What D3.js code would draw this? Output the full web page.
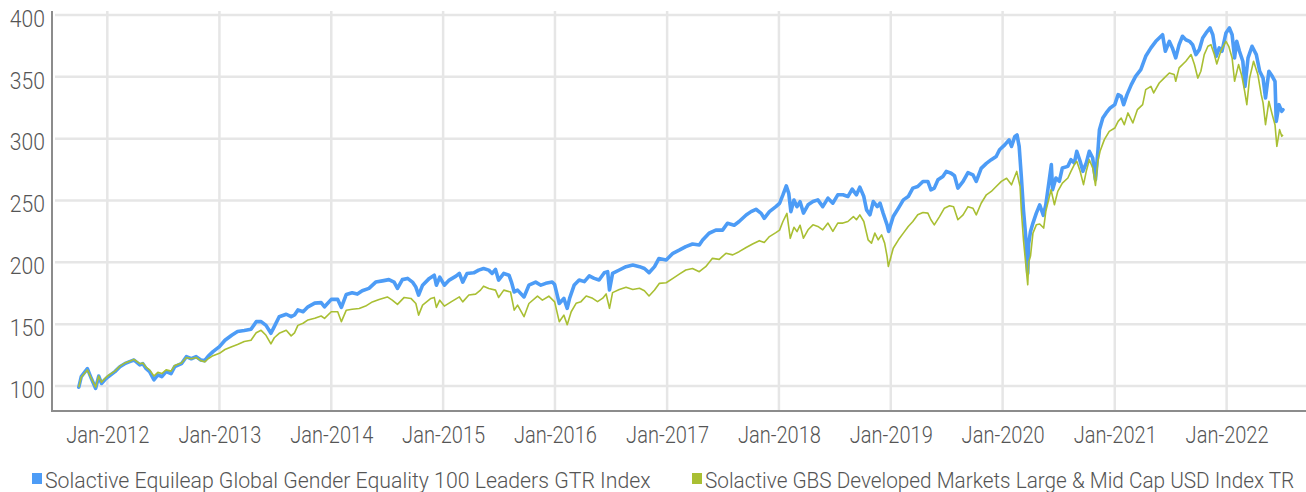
<!DOCTYPE html>
<html>
<head>
<meta charset="utf-8">
<script src="https://cdn.jsdelivr.net/npm/d3@7"></script>
<style>
  body { margin: 0; background: #fff; }
  svg { display: block; }
  text { font-family: Roboto, "Noto Sans", sans-serif; font-weight: 300; fill: #555555; }
</style>
</head>
<body>
<svg id="chart" width="1306" height="492"></svg>
<script>
// ---- data -------------------------------------------------------------
const yTicks = [100, 150, 200, 250, 300, 350, 400];
const xTickDates = ["2012-01-01","2013-01-01","2014-01-01","2015-01-01","2016-01-01","2017-01-01",
                    "2018-01-01","2019-01-01","2020-01-01","2021-01-01","2022-01-01"];
const xTickLabels = ["Jan-2012","Jan-2013","Jan-2014","Jan-2015","Jan-2016","Jan-2017",
                     "Jan-2018","Jan-2019","Jan-2020","Jan-2021","Jan-2022"];
const seriesNames = ["Solactive Equileap Global Gender Equality 100 Leaders GTR Index",
                     "Solactive GBS Developed Markets Large & Mid Cap USD Index TR"];

// Solactive Equileap Global Gender Equality 100 Leaders GTR Index
const genderDates = [
"2011-09-30","2011-10-08","2011-10-28","2011-11-10","2011-11-24","2011-12-04","2011-12-13","2011-12-24",
"2012-01-04","2012-01-26","2012-02-11","2012-02-27","2012-03-14","2012-03-28","2012-04-16","2012-04-26",
"2012-05-07","2012-05-18","2012-06-01","2012-06-14","2012-06-27","2012-07-11","2012-07-27","2012-08-08",
"2012-08-30","2012-09-15","2012-10-01","2012-10-17","2012-11-01","2012-11-14","2012-11-25","2012-12-11",
"2013-01-01","2013-01-19","2013-02-10","2013-03-01","2013-03-23","2013-04-14","2013-05-01","2013-05-17",
"2013-06-02","2013-06-18","2013-06-29","2013-07-15","2013-08-07","2013-08-23","2013-09-03","2013-09-14",
"2013-10-01","2013-10-17","2013-11-08","2013-11-29","2013-12-10",
"2014-01-01","2014-01-22","2014-02-03","2014-02-19","2014-03-10","2014-03-27","2014-04-12","2014-05-04",
"2014-05-26","2014-06-17","2014-07-08","2014-07-25","2014-08-05","2014-08-21","2014-09-07","2014-09-23",
"2014-10-04","2014-10-13","2014-10-26","2014-11-17","2014-12-03","2014-12-10","2014-12-21",
"2015-01-05","2015-01-21","2015-02-12","2015-02-23","2015-03-06","2015-03-20","2015-04-11","2015-04-27",
"2015-05-13","2015-05-30","2015-06-10","2015-06-21","2015-07-01","2015-07-18","2015-08-04","2015-08-12",
"2015-08-21","2015-09-01","2015-09-22","2015-10-08","2015-10-30","2015-11-16","2015-12-02","2015-12-23",
"2015-12-31","2016-01-15","2016-01-30","2016-02-10","2016-02-18","2016-03-04","2016-03-20","2016-04-06",
"2016-04-22","2016-05-08","2016-05-24","2016-06-10","2016-06-21","2016-06-27","2016-07-07","2016-07-29",
"2016-08-20","2016-09-11","2016-10-03","2016-10-19","2016-11-03","2016-11-21","2016-12-05","2016-12-29",
"2017-01-20","2017-02-11","2017-03-03","2017-03-25","2017-04-16","2017-04-27","2017-05-18","2017-06-09",
"2017-07-01","2017-07-17","2017-08-08","2017-08-24","2017-09-16","2017-10-02","2017-10-18","2017-11-04",
"2017-11-14","2017-12-01","2017-12-22","2018-01-03","2018-01-14","2018-01-25","2018-02-02","2018-02-09",
"2018-02-19","2018-03-01","2018-03-11","2018-03-22","2018-04-06","2018-04-22","2018-05-08","2018-05-24",
"2018-06-10","2018-06-26","2018-07-12","2018-07-29","2018-08-14","2018-08-28","2018-09-11","2018-09-22",
"2018-10-05","2018-10-14","2018-10-25","2018-11-05","2018-11-18","2018-11-27","2018-12-07","2018-12-20",
"2018-12-25","2019-01-09","2019-01-26","2019-02-11","2019-02-27","2019-03-14","2019-03-30","2019-04-16",
"2019-05-02","2019-05-12","2019-05-23","2019-06-04","2019-06-20","2019-07-01","2019-07-17","2019-07-28",
"2019-08-08","2019-08-25","2019-09-10","2019-09-26","2019-10-07","2019-10-23","2019-11-09","2019-11-25",
"2019-12-11","2019-12-22","2020-01-08","2020-01-22","2020-01-30","2020-02-10","2020-02-17","2020-02-24",
"2020-03-02","2020-03-09","2020-03-16","2020-03-23","2020-03-26","2020-04-01","2020-04-09","2020-04-20",
"2020-05-01","2020-05-13","2020-05-21","2020-06-08","2020-06-12","2020-06-23","2020-07-04","2020-07-14",
"2020-08-01","2020-08-11","2020-08-22","2020-08-30","2020-09-10","2020-09-19","2020-09-30","2020-10-10",
"2020-10-21","2020-10-30","2020-11-07","2020-11-12","2020-11-23","2020-12-04","2020-12-17","2021-01-01",
"2021-01-12","2021-01-22","2021-01-30","2021-02-10","2021-02-24","2021-03-10","2021-03-27","2021-04-12",
"2021-04-29","2021-05-15","2021-05-26","2021-06-06","2021-06-15","2021-06-28","2021-07-08","2021-07-19",
"2021-07-30","2021-08-10","2021-08-21","2021-09-02","2021-09-12","2021-09-23","2021-10-04","2021-10-15",
"2021-10-26","2021-11-08","2021-11-17","2021-11-28","2021-12-08","2021-12-17","2021-12-30","2022-01-10",
"2022-01-19","2022-01-27","2022-02-03","2022-02-12","2022-02-23","2022-03-02","2022-03-12","2022-03-25",
"2022-04-08","2022-04-19","2022-04-30","2022-05-08","2022-05-19","2022-05-30","2022-06-08","2022-06-12",
"2022-06-21","2022-06-30","2022-07-04"];
const genderValues = [
99,107.5,114,106,98,108,102,105,
107.5,111.6,115.6,118,119.7,121,117,118,
114,111.6,105,109,107.5,111.6,110,115.6,
118,123.7,122,123.7,121,120.5,124,127.8,
131.8,137,141,144,144.8,145.8,152,152,
149,142.6,148,156,158,156,157.4,161.5,
160,164,167,167.4,164,
170,170,163.5,174,175.4,174.3,177,178.9,
184,185,186,184,178.9,186,187,184,
180,173.5,181.5,187,189.6,181.5,188,
181.5,185.6,188.8,191,184,191,191.5,193.7,
195,193.7,191,194.2,185.6,191,189.6,184,
176,177.5,172,181.5,184,181.5,183,184,
182,166.7,170.8,162.8,171,181.7,185.7,184.4,
189,187,185.7,191.6,192.4,177.6,191,193.8,
196.5,197.8,196.5,195,191.6,196.5,203,201.9,
207.3,210,212.7,214.8,214,218,223.5,226,
226,231.6,230,233,238.3,241,242.9,239.6,
235.6,241,245,247.7,254.5,261.8,255.8,241,
250.4,245,249,239.8,246.5,249.2,250.5,245,
251.9,247.8,254.6,254.6,253.2,259.2,254.6,260.8,
253.2,242.4,238.4,249.2,245,247.8,239.8,230.3,
225,237,243.8,250.5,253.2,260,261.3,265.4,
265.4,258.6,260,266.7,269.4,273.5,272,270,
260,265.4,272.6,270.8,265.4,276,280,283,
285.6,291,295,299,293.7,301.8,303,293.7,
269.4,242.4,222,191,215,225,231.7,239.8,
246.5,238,246.6,279,258.7,268.2,265.5,276.3,
277.6,283,280.3,289.8,281.7,273.6,280.3,289.8,
284.4,266.8,289.8,307.3,316.7,320.8,324.8,327.5,
335.6,334.2,327.5,335.6,343.7,350.4,355.8,366.6,
373.4,378.7,381.4,384.1,370.7,378.7,373.4,365.3,
376,382.8,380,378.7,376,368,372,381.4,
385.5,389.5,384,366.6,373.4,370.7,385.5,389.5,
384,365.3,378.7,370.7,362.6,342.3,365.3,374.7,
368,354.5,349,332.9,354.5,350.4,346.4,314,
327.5,322.1,323.5];

// Solactive GBS Developed Markets Large & Mid Cap USD Index TR
const marketDates = [
"2011-09-30","2011-10-08","2011-10-28","2011-11-10","2011-11-24","2011-12-04","2011-12-13","2011-12-24",
"2012-01-04","2012-01-26","2012-02-11","2012-02-27","2012-03-14","2012-03-28","2012-04-16","2012-04-26",
"2012-05-07","2012-05-18","2012-06-01","2012-06-14","2012-06-27","2012-07-11","2012-07-27","2012-08-08",
"2012-08-30","2012-09-15","2012-10-01","2012-10-17","2012-11-01","2012-11-14","2012-11-25","2012-12-11",
"2013-01-01","2013-01-19","2013-02-10","2013-03-01","2013-03-23","2013-04-14","2013-05-01","2013-05-17",
"2013-06-02","2013-06-18","2013-06-29","2013-07-15","2013-08-07","2013-08-23","2013-09-03","2013-09-14",
"2013-10-01","2013-10-17","2013-11-08","2013-11-29","2013-12-10",
"2014-01-01","2014-01-22","2014-02-03","2014-02-19","2014-03-10","2014-04-02","2014-04-23","2014-05-15",
"2014-06-06","2014-07-03","2014-07-19","2014-08-05","2014-08-27","2014-09-18","2014-10-04","2014-10-13",
"2014-10-26","2014-11-22","2014-12-03","2014-12-10","2014-12-21",
"2015-01-05","2015-01-27","2015-02-23","2015-03-06","2015-03-26","2015-04-17","2015-05-03","2015-05-13",
"2015-05-30","2015-06-21","2015-07-01","2015-07-18","2015-08-09","2015-08-21","2015-09-01","2015-09-22",
"2015-10-08","2015-11-05","2015-11-21","2015-12-12","2015-12-31","2016-01-15","2016-01-30","2016-02-10",
"2016-02-23","2016-03-10","2016-03-26","2016-04-12","2016-05-03","2016-05-19","2016-06-05","2016-06-16",
"2016-06-27","2016-07-07","2016-07-29","2016-08-20","2016-09-11","2016-10-03","2016-10-19","2016-11-03",
"2016-11-21","2016-12-07","2016-12-29","2017-01-20","2017-02-11","2017-03-03","2017-03-25","2017-04-16",
"2017-05-07","2017-05-29","2017-06-20","2017-07-12","2017-08-03","2017-08-24","2017-09-16","2017-10-07",
"2017-10-29","2017-11-14","2017-12-01","2017-12-22","2018-01-03","2018-01-14","2018-01-27","2018-02-07",
"2018-02-19","2018-03-01","2018-03-11","2018-03-22","2018-04-06","2018-04-22","2018-05-08","2018-05-24",
"2018-06-10","2018-06-26","2018-07-12","2018-07-29","2018-08-14","2018-09-01","2018-09-11","2018-09-22",
"2018-10-05","2018-10-19","2018-10-30","2018-11-10","2018-11-21","2018-12-02","2018-12-12","2018-12-20",
"2018-12-24","2019-01-09","2019-01-26","2019-02-11","2019-02-27","2019-03-14","2019-03-30","2019-04-16",
"2019-05-02","2019-05-12","2019-05-23","2019-06-09","2019-06-25","2019-07-12","2019-07-25","2019-08-08",
"2019-08-25","2019-09-10","2019-09-26","2019-10-07","2019-10-23","2019-11-09","2019-11-25","2019-12-11",
"2019-12-28","2020-01-14","2020-01-30","2020-02-16","2020-02-27","2020-03-02","2020-03-09","2020-03-16",
"2020-03-23","2020-03-26","2020-04-01","2020-04-09","2020-04-20","2020-05-01","2020-05-14","2020-05-21",
"2020-06-07","2020-06-18","2020-06-29","2020-07-14","2020-08-01","2020-08-11","2020-08-22","2020-08-30",
"2020-09-10","2020-09-21","2020-09-30","2020-10-10","2020-10-21","2020-10-30","2020-11-07","2020-11-14",
"2020-11-28","2020-12-14","2021-01-01","2021-01-12","2021-01-22","2021-02-01","2021-02-13","2021-03-01",
"2021-03-16","2021-04-02","2021-04-12","2021-04-29","2021-05-08","2021-05-26","2021-06-11","2021-06-28",
"2021-07-14","2021-07-19","2021-07-30","2021-08-21","2021-09-07","2021-09-18","2021-09-29","2021-10-09",
"2021-10-20","2021-11-01","2021-11-11","2021-11-22","2021-11-30","2021-12-13","2021-12-30","2022-01-08",
"2022-01-19","2022-01-27","2022-02-09","2022-02-20","2022-03-01","2022-03-08","2022-03-17","2022-03-30",
"2022-04-13","2022-04-24","2022-04-30","2022-05-08","2022-05-19","2022-05-30","2022-06-08","2022-06-14",
"2022-06-23","2022-06-30","2022-07-04"];
const marketValues = [
99,107,113,106,99,108,103,106,
108.5,112,116,118.5,120,121.5,118,118.5,
115,113,108,111,110,113,112,116.5,
118.5,123,122,123,120.5,119.5,122,124.5,
126.4,129.5,131.8,133.5,135.9,137,143,145,
141,134,139,142.6,145,140.5,143,149,
150.7,153.4,154.7,156.6,154.7,
160,160,152,161.3,162,162.7,164.6,168,
170,172,169.4,166,171.6,170.8,166.7,157.3,
165.4,170.8,171.6,163.5,169.4,
164.6,168,172,168,173.5,174.3,177.5,180.7,
178.9,177.5,171.6,177.5,176,161.3,165.4,156,
166.7,172.6,169.4,172.6,168,152,157.3,149.5,
160,166.8,168.2,172.8,170.9,168.2,171,174.4,
162.8,175.5,178,179.8,178,179,177,172.8,
177.6,183,183.5,187,190.6,193.8,195,192.4,
196.5,203.2,202.4,207.3,206,208.6,212,214.8,
217.5,216,220.8,224,226,233,239.6,219.4,
228.3,224.8,230,219.5,226.3,230.3,229,226.3,
231.7,225,231.7,231.7,233,237,234.4,238.4,
233,218.2,215.5,223.6,218.2,222.2,215.5,204.7,
196.6,211.4,218.2,223.6,229,233,238.4,240.3,
239.8,234.4,230.3,237,243.8,245.7,245,234.4,
238.4,245,243.8,238.4,247.8,254.6,257.3,261.3,
265.4,268,262.7,273.5,261.3,242.4,218.2,200,
181.8,200,205,223.6,230.3,231,227.7,241.2,
258.7,246.6,257.4,264.1,268.2,273.6,279,281.7,
273.6,262.8,273.6,283,276.3,262.2,281.7,289.8,
299.2,305.9,308.6,314,316.7,311.3,320.8,312.7,
323.5,327.5,339.6,342.3,337,345,349,353.1,
351.8,346.4,357.2,362.6,368,360,349,354.5,
368,374.7,376,368,360.4,370.7,378.7,374.7,
365.3,346.4,359.9,350.4,338.3,327.5,349,362.6,
351.8,335.6,328.9,311.3,330.2,319.4,311.3,293.8,
307.3,301.9,303.2];

// ---- chart ------------------------------------------------------------
const plotLeft = 52, plotRight = 1306, plotTop = 15, plotBottom = 411;
const gridColor = "#e6e6e6", axisColor = "#8c8c8c";
const genderColor = "#4d9cf6", marketColor = "#a9bf33";

const parse = d3.utcParse("%Y-%m-%d");
const tickDates = xTickDates.map(parse);

// Yearly ticks sit on fixed positions; the domain is widened to the plot edges.
const xAnchor = d3.scaleUtc().domain([tickDates[0], tickDates[tickDates.length - 1]]).range([107.3, 1226.6]);
const x = d3.scaleUtc().domain([xAnchor.invert(plotLeft), xAnchor.invert(plotRight)]).range([plotLeft, plotRight]);
const y = d3.scaleLinear().domain([80, 400]).range([410.7, plotTop]);

const svg = d3.select("#chart");

// gridlines
svg.append("g").selectAll("line").data(yTicks).join("line")
  .attr("x1", 55).attr("x2", plotRight)
  .attr("y1", d => y(d)).attr("y2", d => y(d))
  .attr("stroke", gridColor).attr("stroke-width", 2.5);
svg.append("g").selectAll("line").data(tickDates).join("line")
  .attr("x1", d => x(d)).attr("x2", d => x(d))
  .attr("y1", 11).attr("y2", plotBottom)
  .attr("stroke", gridColor).attr("stroke-width", 2.5);

// series
const line = (dates, values) => d3.line()
  .x((d, i) => x(parse(dates[i])))
  .y(d => y(d))(values);

svg.append("path").attr("d", line(genderDates, genderValues))
  .attr("fill", "none").attr("stroke", genderColor).attr("stroke-width", 3.6)
  .attr("stroke-linejoin", "round").attr("stroke-linecap", "round");
svg.append("path").attr("d", line(marketDates, marketValues))
  .attr("fill", "none").attr("stroke", marketColor).attr("stroke-width", 1.6)
  .attr("stroke-linejoin", "round");

// axes
const yAxis = svg.append("g").attr("transform", `translate(${plotLeft},0)`)
  .call(d3.axisLeft(y).tickValues(yTicks).tickSize(0).tickPadding(7).tickFormat(d3.format("d")));
yAxis.select(".domain").remove();
yAxis.selectAll("text").attr("font-size", 24).attr("dy", "0.47em");

const xAxis = svg.append("g").attr("transform", `translate(0,${plotBottom})`)
  .call(d3.axisBottom(x).tickValues(tickDates).tickSize(0).tickFormat((d, i) => xTickLabels[i]));
xAxis.select(".domain").remove();
xAxis.selectAll("text").attr("font-size", 23).attr("y", 32).attr("dy", 0);
svg.selectAll("g").attr("font-family", null).attr("font-size", null);

svg.append("line").attr("x1", plotLeft).attr("x2", plotLeft).attr("y1", 11).attr("y2", plotBottom + 1)
  .attr("stroke", axisColor).attr("stroke-width", 2);
svg.append("line").attr("x1", plotLeft).attr("x2", plotRight).attr("y1", plotBottom).attr("y2", plotBottom)
  .attr("stroke", axisColor).attr("stroke-width", 2);

// legend: swatch plus horizontally narrowed label
const legendItems = [
  { name: seriesNames[0], color: genderColor, x: 32, width: 606 },
  { name: seriesNames[1], color: marketColor, x: 692, width: 590 }
];
legendItems.forEach(it => {
  svg.append("rect").attr("x", it.x).attr("y", 473).attr("width", 10).attr("height", 11).attr("fill", it.color);
  const g = svg.append("g");
  const t = g.append("text").attr("x", 0).attr("y", 0).attr("font-size", 22).text(it.name);
  const k = it.width / t.node().getComputedTextLength();
  g.attr("transform", `translate(${it.x + 13},488) scale(${k},1)`);
});

// narrow lettering on the axes
const condense = (sel, k) => sel.each(function () {
  const n = this.getComputedTextLength();
  d3.select(this).attr("textLength", n * k).attr("lengthAdjust", "spacingAndGlyphs");
});
condense(yAxis.selectAll("text"), 0.88);
xAxis.selectAll("text").attr("textLength", 83).attr("lengthAdjust", "spacingAndGlyphs");
</script>
</body>
</html>
